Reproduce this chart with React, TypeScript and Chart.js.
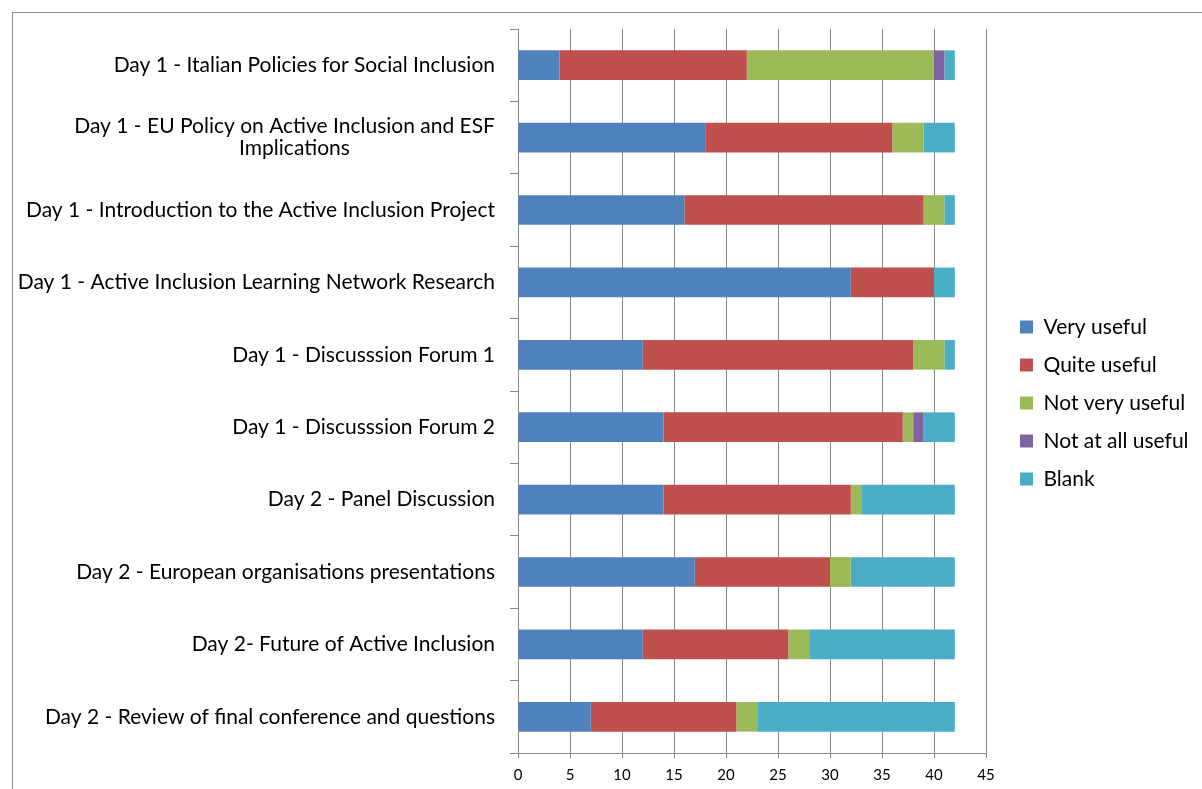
import React, { useEffect, useRef } from "react";
import { Chart, registerables } from "chart.js";

Chart.register(...registerables);

const categories: (string | string[])[] = [
  "Day 1 - Italian Policies for Social Inclusion",
  ["Day 1 - EU Policy on Active Inclusion and ESF", "Implications"],
  "Day 1 - Introduction to the Active Inclusion Project",
  "Day 1 - Active Inclusion Learning Network Research",
  "Day 1 - Discusssion Forum 1",
  "Day 1 - Discusssion Forum 2",
  "Day 2 - Panel Discussion",
  "Day 2 - European organisations presentations",
  "Day 2- Future of Active Inclusion",
  "Day 2 - Review of final conference and questions",
];

const veryUseful = [4, 18, 16, 32, 12, 14, 14, 17, 12, 7];
const quiteUseful = [18, 18, 23, 8, 26, 23, 18, 13, 14, 14];
const notVeryUseful = [18, 3, 2, 0, 3, 1, 1, 2, 2, 2];
const notAtAllUseful = [1, 0, 0, 0, 0, 1, 0, 0, 0, 0];
const blank = [1, 3, 1, 2, 1, 3, 9, 10, 14, 19];

const xMin = 0;
const xMax = 45;
const xStep = 5;

const FONT = "Lato, 'Liberation Sans', sans-serif";

export default function App() {
  const ref = useRef<HTMLCanvasElement>(null);
  useEffect(() => {
    const canvas = ref.current!;
    const layoutPlugin = {
      id: "layoutTweak",
      beforeInit(chart: any) {
        const lg = chart.legend;
        if (lg) {
          const orig = lg.fit;
          lg.fit = function () {
            orig.call(this);
            this.width = 216;
          };
        }
      },
      afterLayout(chart: any) {
        const lg = chart.legend;
        if (lg) {
          lg.left += 17;
          lg.right += 17;
          lg.top -= 6;
          lg.bottom -= 6;
        }
      },
    };
    const chart = new Chart(canvas, {
      type: "bar",
      data: {
        labels: categories,
        datasets: [
          { label: "Very useful", data: veryUseful, backgroundColor: "#4F81BD" },
          { label: "Quite useful", data: quiteUseful, backgroundColor: "#C0504D" },
          { label: "Not very useful", data: notVeryUseful, backgroundColor: "#9BBB59" },
          { label: "Not at all useful", data: notAtAllUseful, backgroundColor: "#8064A2" },
          { label: "Blank", data: blank, backgroundColor: "#4BACC6" },
        ],
      },
      options: {
        indexAxis: "y",
        animation: false,
        responsive: false,
        devicePixelRatio: 1,
        layout: { padding: { top: 29, left: 0, right: 0, bottom: 0 } },
        datasets: { bar: { categoryPercentage: 1, barPercentage: 0.41 } },
        scales: {
          x: {
            stacked: true,
            min: xMin,
            max: xMax,
            ticks: {
              stepSize: xStep,
              padding: 8,
              color: "#000",
              font: { family: FONT, size: 15 },
              maxRotation: 0,
            },
            grid: { color: "#888", lineWidth: 1, tickLength: 5, drawTicks: true },
            border: { color: "#888", width: 1 },
            afterFit(scale: any) {
              scale.height = 36;
            },
          },
          y: {
            stacked: true,
            ticks: {
              padding: 15,
              color: "#000",
              font: { family: FONT, size: 21, lineHeight: 1.05 },
              autoSkip: false,
              callback(_v: any, i: number) {
                const c = categories[i];
                if (Array.isArray(c)) {
                  return [c[0], c[1] + " ".repeat(27)];
                }
                return c;
              },
            },
            grid: { drawOnChartArea: false, color: "#888", tickLength: 8, offset: true },
            border: { color: "#888", width: 1 },
            afterFit(scale: any) {
              scale.width = 518;
            },
          },
        },
        plugins: {
          tooltip: { enabled: false },
          legend: {
            position: "right",
            labels: {
              boxWidth: 13,
              boxHeight: 13,
              padding: 17,
              color: "#000",
              font: { family: FONT, size: 21 },
            },
          },
        },
      },
      plugins: [layoutPlugin],
    });
    return () => chart.destroy();
  }, []);
  return (
    <div style={{ position: "fixed", left: 0, top: 0, width: 1202, height: 789, overflow: "hidden", background: "#fff" }}>
      <div
        style={{
          position: "absolute",
          left: 12,
          top: 12,
          width: 1300,
          height: 900,
          border: "1px solid #8c8c8c",
          boxSizing: "border-box",
        }}
      />
      <canvas ref={ref} width={1202} height={789} style={{ position: "absolute", left: 0, top: 0 }} />
    </div>
  );
}
